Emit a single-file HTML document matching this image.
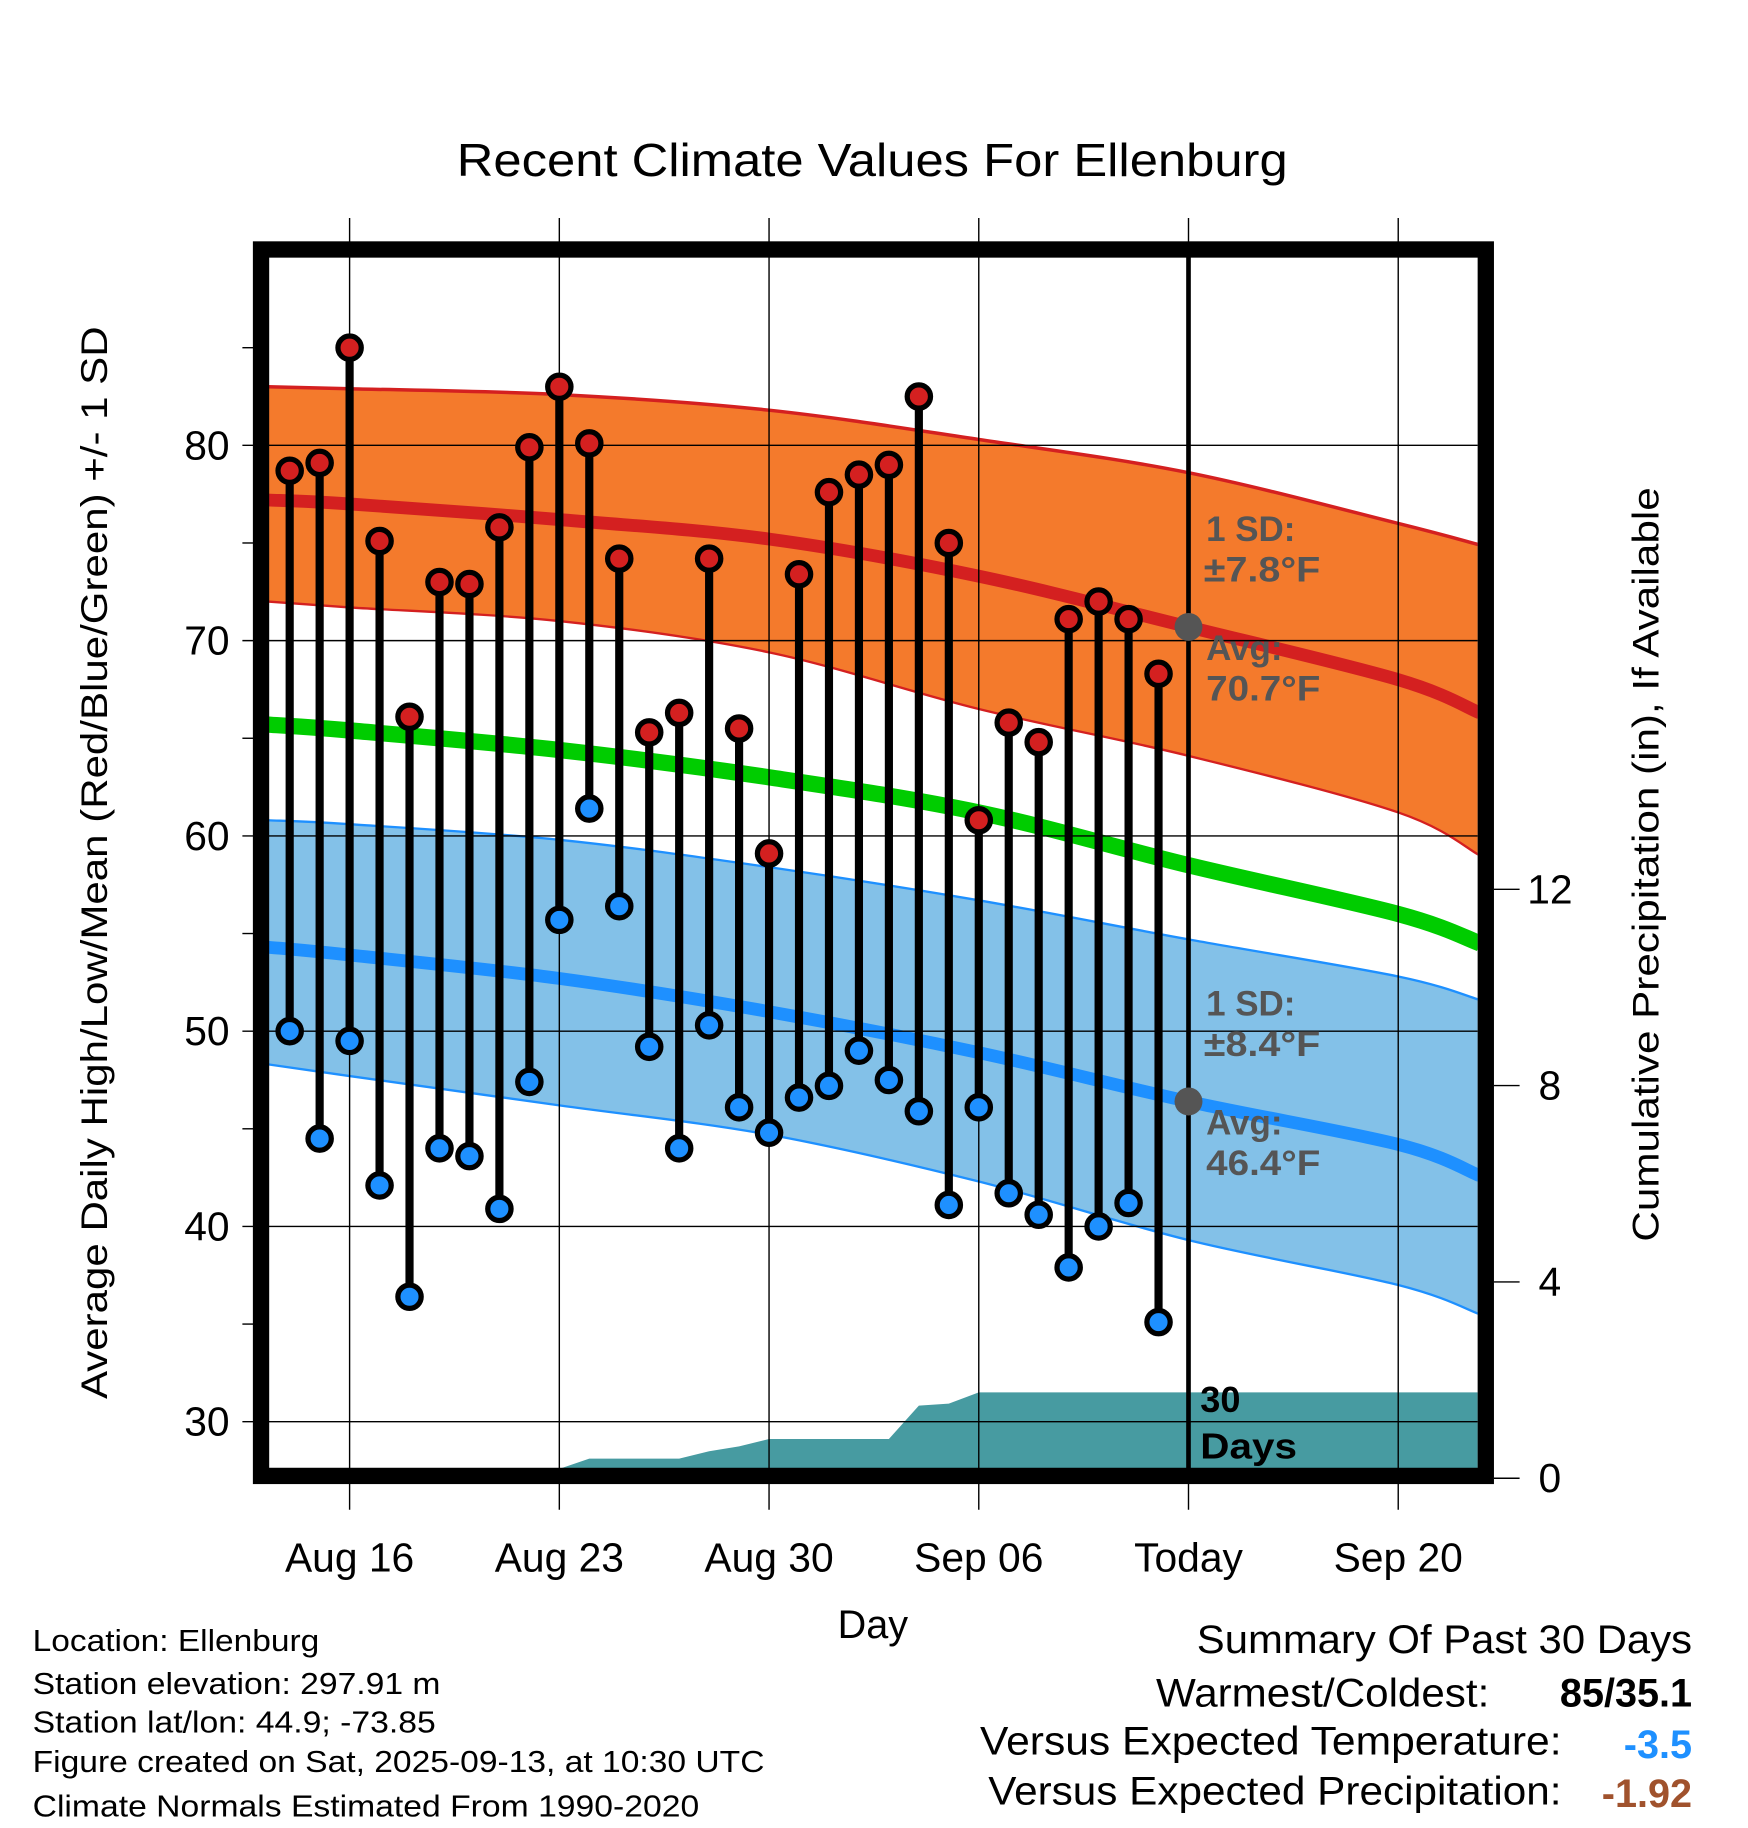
<!DOCTYPE html>
<html><head><meta charset="utf-8"><style>
html,body{margin:0;padding:0;background:#fff;}
svg{display:block;font-family:"Liberation Sans",Arial,sans-serif;}
</style></head><body>
<svg id="chart" width="1748" height="1828" viewBox="0 0 1500 1568" preserveAspectRatio="none" xmlns="http://www.w3.org/2000/svg">
<defs><clipPath id="plotclip"><rect x="230" y="220" width="1038" height="1040"/></clipPath></defs>
<g id="bands" clip-path="url(#plotclip)"></g>
<g id="grid"></g>
<g id="marks"></g>
<g id="labels"></g>
</svg>
<script>
// ---- data ----
const obsDays = [-2,-1,0,1,2,3,4,5,6,7,8,9,10,11,12,13,14,15,16,17,18,19,20,21,22,23,24,25,26,27];
const highs = [78.7,79.1,85,75.1,66.1,73,72.9,75.8,79.9,83,80.1,74.2,65.3,66.3,74.2,65.5,59.1,73.4,77.6,78.5,79,82.5,75,60.8,65.8,64.8,71.1,72,71.1,68.3];
const lows = [50,44.5,49.5,42.1,36.4,44,43.6,40.9,47.4,55.7,61.4,56.4,49.2,44,50.3,46.1,44.8,46.6,47.2,49,47.5,45.9,41.1,46.1,41.7,40.6,37.9,40,41.2,35.1];
const normDays = [-2.72,0,7,14,21,28,35,37.72];
const highUpper = [83.0,82.9,82.6,81.8,80.3,78.6,76.0,74.9];
const highAvg = [77.2,77.0,76.2,75.2,73.3,70.7,68.0,66.3];
const highLower = [72.0,71.7,71.0,69.4,66.5,64.1,61.2,59.0];
const meanAvg = [65.7,65.4,64.4,63.0,61.2,58.5,56.0,54.5];
const lowUpper = [60.8,60.6,59.8,58.4,56.7,54.7,52.8,51.6];
const lowAvg = [54.3,53.9,52.7,51.0,48.9,46.4,44.2,42.6];
const lowLower = [48.3,47.7,46.2,44.7,42.3,39.3,37.0,35.5];
const precipDays = [-2,-1,0,1,2,3,4,5,6,7,8,9,10,11,12,13,14,15,16,17,18,19,20,21,22,23,24,25,26,27,37.72];
const precipCum = [0,0,0,0,0,0,0,0,0,0.19,0.4,0.4,0.4,0.4,0.55,0.65,0.8,0.8,0.8,0.8,0.8,1.48,1.52,1.75,1.75,1.75,1.75,1.75,1.75,1.75,1.75];
const xTickDays = [0,7,14,21,28,35];
const xTickLabels = ["Aug 16","Aug 23","Aug 30","Sep 06","Today","Sep 20"];
const yTicks = [30,40,50,60,70,80];
const yMinor = [35,45,55,65,75,85];
const pTicks = [0,4,8,12];

// ---- axes ----
const L=230,R=1268,T=220,B=1260;
const X=d=>300+d*25.71;
const Y=v=>382+(80-v)*16.75;
const P=p=>1268-p*42.1;
const NS="http://www.w3.org/2000/svg";
function el(tag,attrs,parent,text){const e=document.createElementNS(NS,tag);for(const k in attrs)e.setAttribute(k,attrs[k]);if(text!==undefined)e.textContent=text;document.getElementById(parent).appendChild(e);return e;}
function pts(days,vals){return days.map((d,i)=>[X(d),Y(vals[i])]);}
function smooth(p,move){ // Catmull-Rom
  let s=(move?"M":"L")+p[0][0]+","+p[0][1];
  for(let i=0;i<p.length-1;i++){
    const p0=p[Math.max(0,i-1)],p1=p[i],p2=p[i+1],p3=p[Math.min(p.length-1,i+2)];
    const c1=[p1[0]+(p2[0]-p0[0])/6,p1[1]+(p2[1]-p0[1])/6];
    const c2=[p2[0]-(p3[0]-p1[0])/6,p2[1]-(p3[1]-p1[1])/6];
    s+=" C"+c1[0]+","+c1[1]+" "+c2[0]+","+c2[1]+" "+p2[0]+","+p2[1];
  }
  return s;
}
function linePath(days,vals){return smooth(pts(days,vals),true);}
function bandPath(days,up,lo){return smooth(pts(days,up),true)+" "+smooth(pts(days,lo).reverse(),false)+" Z";}

let e;
e=el("path",{d:bandPath(normDays,highUpper,highLower),fill:"#f47a2c",stroke:"none"},"bands");


e=el("path",{d:linePath(normDays,highUpper),fill:"none",stroke:"#d42020","stroke-width":3},"bands");


e=el("path",{d:linePath(normDays,highLower),fill:"none",stroke:"#d42020","stroke-width":2},"bands");


e=el("path",{d:bandPath(normDays,lowUpper,lowLower),fill:"#83c1e8",stroke:"none"},"bands");


e=el("path",{d:linePath(normDays,lowUpper),fill:"none",stroke:"#1e90ff","stroke-width":2},"bands");


e=el("path",{d:linePath(normDays,lowLower),fill:"none",stroke:"#1e90ff","stroke-width":2},"bands");


e=el("path",{d:linePath(normDays,highAvg),fill:"none",stroke:"#d42020","stroke-width":11},"bands");


e=el("path",{d:linePath(normDays,lowAvg),fill:"none",stroke:"#1e90ff","stroke-width":11},"bands");


e=el("path",{d:linePath(normDays,meanAvg),fill:"none",stroke:"#00cc00","stroke-width":14},"bands");


// precip
let pp=precipDays.map((d,i)=>X(d)+","+Math.min(B,P(precipCum[i]))).join(" ");
pp+=" "+X(precipDays[precipDays.length-1])+","+B+" "+X(precipDays[0])+","+B;
e=el("polygon",{points:pp,fill:"#479ba1",stroke:"none"},"bands");



// grid
xTickDays.forEach(d=>{
  e=el("line",{x1:X(d),x2:X(d),y1:187,y2:1295,stroke:"#000","stroke-width":1.2},"grid");
  
  
});
xTickDays.forEach((d,i)=>{
  e=el("text",{x:X(d),y:1348,"font-size":35,"text-anchor":"middle"},"labels",xTickLabels[i]);
  
  
});
yTicks.forEach(v=>{
  e=el("line",{x1:208,x2:R,y1:Y(v),y2:Y(v),stroke:"#000","stroke-width":1.2},"grid");
  
  
  e=el("text",{x:197,y:Y(v)+12,"font-size":35,"text-anchor":"end"},"labels",String(v));
  
  
});
yMinor.forEach(v=>{
  e=el("line",{x1:208,x2:218,y1:Y(v),y2:Y(v),stroke:"#000","stroke-width":1.2},"grid");
  
  
});
pTicks.forEach(p=>{
  e=el("line",{x1:1282,x2:1304,y1:P(p),y2:P(p),stroke:"#000","stroke-width":1.2},"grid");
  
  
  e=el("text",{x:1330,y:P(p)+12,"font-size":35,"text-anchor":"middle"},"labels",String(p));
  
  
});
e=el("line",{x1:X(28),x2:X(28),y1:T,y2:B,stroke:"#000","stroke-width":4},"grid");



obsDays.forEach((d,i)=>{
  e=el("line",{x1:X(d),x2:X(d),y1:Y(highs[i]),y2:Y(lows[i]),stroke:"#000","stroke-width":7},"marks");
  
  
});
obsDays.forEach((d,i)=>{
  e=el("circle",{cx:X(d),cy:Y(highs[i]),r:10,fill:"#d42020",stroke:"#000","stroke-width":4.5},"marks");
  
  
  e=el("circle",{cx:X(d),cy:Y(lows[i]),r:10,fill:"#1e90ff",stroke:"#000","stroke-width":4.5},"marks");
  
  
});
e=el("circle",{cx:X(28),cy:Y(highAvg[5]),r:12,fill:"#555"},"marks");


e=el("circle",{cx:X(28),cy:Y(lowAvg[5]),r:12,fill:"#555"},"marks");



e=el("rect",{x:224,y:214,width:1051,height:1052,fill:"none",stroke:"#000","stroke-width":14},"marks");



document.getElementById("labels").insertAdjacentHTML("beforeend",`
<text x="392" y="151" font-size="40" textLength="713" lengthAdjust="spacingAndGlyphs">Recent Climate Values For Ellenburg</text>
<text x="749" y="1405" font-size="34" text-anchor="middle">Day</text>
<text transform="translate(92,1200) rotate(-90)" font-size="32" textLength="920" lengthAdjust="spacingAndGlyphs">Average Daily High/Low/Mean (Red/Blue/Green) +/- 1 SD</text>
<text transform="translate(1423,1065) rotate(-90)" font-size="32" textLength="647" lengthAdjust="spacingAndGlyphs">Cumulative Precipitation (in), If Available</text>
<g font-size="30" font-weight="bold" fill="#555">
<text x="1035" y="464">1 SD:</text>
<text x="1033" y="499" textLength="100" lengthAdjust="spacingAndGlyphs">±7.8°F</text>
<text x="1035" y="566">Avg:</text>
<text x="1035" y="601" textLength="98" lengthAdjust="spacingAndGlyphs">70.7°F</text>
<text x="1035" y="871">1 SD:</text>
<text x="1033" y="906" textLength="100" lengthAdjust="spacingAndGlyphs">±8.4°F</text>
<text x="1035" y="973">Avg:</text>
<text x="1035" y="1008" textLength="98" lengthAdjust="spacingAndGlyphs">46.4°F</text>
</g>
<g font-size="31" font-weight="bold" fill="#000">
<text x="1030" y="1211">30</text>
<text x="1030" y="1251" textLength="83" lengthAdjust="spacingAndGlyphs">Days</text>
</g>
<g font-size="26">
<text x="28" y="1416" textLength="246" lengthAdjust="spacingAndGlyphs">Location: Ellenburg</text>
<text x="28" y="1453" textLength="350" lengthAdjust="spacingAndGlyphs">Station elevation: 297.91 m</text>
<text x="28" y="1486" textLength="346" lengthAdjust="spacingAndGlyphs">Station lat/lon: 44.9; -73.85</text>
<text x="28" y="1520" textLength="628" lengthAdjust="spacingAndGlyphs">Figure created on Sat, 2025-09-13, at 10:30 UTC</text>
<text x="28" y="1558" textLength="572" lengthAdjust="spacingAndGlyphs">Climate Normals Estimated From 1990-2020</text>
</g>
<g font-size="34">
<text x="1027" y="1418" textLength="425" lengthAdjust="spacingAndGlyphs">Summary Of Past 30 Days</text>
<text x="992" y="1464" textLength="286" lengthAdjust="spacingAndGlyphs">Warmest/Coldest:</text>
<text x="1452" y="1464" text-anchor="end" font-weight="bold">85/35.1</text>
<text x="841" y="1505" textLength="499" lengthAdjust="spacingAndGlyphs">Versus Expected Temperature:</text>
<text x="1452" y="1508" text-anchor="end" font-weight="bold" fill="#1e90ff">-3.5</text>
<text x="848" y="1548" textLength="492" lengthAdjust="spacingAndGlyphs">Versus Expected Precipitation:</text>
<text x="1452" y="1550" text-anchor="end" font-weight="bold" fill="#a0522d">-1.92</text>
</g>`);
</script>
</body></html>
